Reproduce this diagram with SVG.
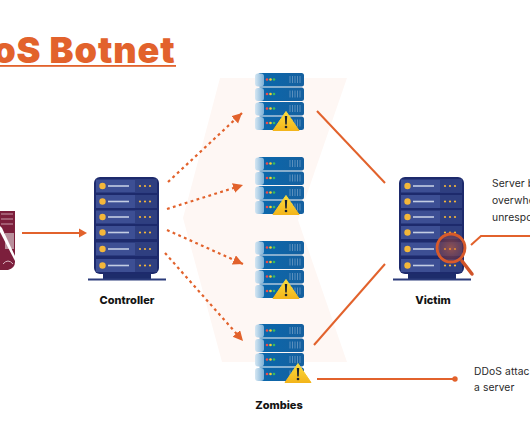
<svg xmlns="http://www.w3.org/2000/svg" xmlns:xlink="http://www.w3.org/1999/xlink" width="530" height="442" viewBox="0 0 530 442">
<style>
text{font-family:"Inter","Liberation Sans",sans-serif}
.lbl{font-size:11px;font-weight:800;fill:#141414;text-anchor:middle}
.note{font-size:10.300px;fill:#2a2a2a;letter-spacing:.1px}
.solid{fill:none;stroke:#e2622c;stroke-width:2}
.dash{fill:none;stroke:#e2622c;stroke-width:2.200;stroke-dasharray:2.800 3.400;marker-end:url(#tip)}
</style>
<defs>
<marker id="tip" markerUnits="userSpaceOnUse" markerWidth="12" markerHeight="12" refX="10" refY="5" orient="auto"><path d="M0 0L10 5L0 10Z" fill="#e2622c"/></marker>
<linearGradient id="blue" x1="0" x2="1" y1="0" y2="0"><stop offset="0" stop-color="#0a68ad"/><stop offset="1" stop-color="#15609f"/></linearGradient>
<linearGradient id="cap" x1="0" x2="1" y1="0" y2="0"><stop offset="0" stop-color="#d5e7f3"/><stop offset="1" stop-color="#7db0d6"/></linearGradient>
<linearGradient id="warn" x1="0" x2="0" y1="0" y2="1"><stop offset="0" stop-color="#fbdd3d"/><stop offset="1" stop-color="#f3b51b"/></linearGradient>
<radialGradient id="lens"><stop offset="0" stop-color="#e2622c" stop-opacity=".55"/><stop offset="1" stop-color="#a83a2a" stop-opacity=".3"/></radialGradient>
<g id="row">
<rect x="2" y="0" width="61" height="13" fill="#3d4f94"/>
<rect x="41" y="0" width="22" height="13" fill="#2f3f80"/>
<circle cx="8.500" cy="6.500" r="3.200" fill="#f4b73a"/>
<rect x="14" y="5.700" width="21" height="1.600" fill="#c3cde3"/>
<circle cx="46" cy="6.500" r="1.100" fill="#f4b73a"/><circle cx="51" cy="6.500" r="1.100" fill="#f4b73a"/><circle cx="56" cy="6.500" r="1.100" fill="#f4b73a"/>
</g>
<g id="rack">
<rect x="9" y="95" width="48" height="7" fill="#1d2c6b"/>
<rect x="-6" y="101.500" width="78" height="2" fill="#2b3b7a"/>
<rect x="0" y="0" width="65" height="97" rx="6" fill="#1d2a6c"/>
<use xlink:href="#row" href="#row" y="2.500"/>
<use xlink:href="#row" href="#row" y="18"/>
<use xlink:href="#row" href="#row" y="33.500"/>
<use xlink:href="#row" href="#row" y="49"/>
<use xlink:href="#row" href="#row" y="65.500"/>
<use xlink:href="#row" href="#row" y="82"/>
</g>
<g id="urow">
<rect x="3" y="0" width="46" height="13.500" rx="2.500" fill="url(#blue)"/>
<rect x="0" y="0.500" width="9" height="13" rx="3" fill="url(#cap)"/>
<circle cx="12" cy="6.500" r="1.300" fill="#ef4d4d"/><circle cx="15.500" cy="6.500" r="1.300" fill="#f6d232"/><circle cx="19" cy="6.500" r="1.300" fill="#3dbb5c"/>
<path d="M35 3v7M37.500 3v7M40 3v7M42.500 3v7M45 3v7" stroke="#5a8fbd" stroke-width="1"/>
</g>
<g id="stack">
<use xlink:href="#urow" href="#urow" y="0"/>
<use xlink:href="#urow" href="#urow" y="14.500"/>
<use xlink:href="#urow" href="#urow" y="29"/>
<use xlink:href="#urow" href="#urow" y="43.500"/>
</g>
<g id="warning">
<path d="M13 0.500L26 19.500H0Z" fill="url(#warn)" stroke="url(#warn)" stroke-width="1" stroke-linejoin="round"/>
<path d="M11.800 5h2.400l-.5 8.500h-1.400Z" fill="#1a2230"/><circle cx="13" cy="16" r="1.300" fill="#1a2230"/>
</g>
</defs>
<rect width="530" height="442" fill="#fff"/>
<path d="M220 78H347L298 220L347 362H222L183 218Z" fill="#fef7f4"/>
<g id="title">
<text x="175.500" y="63" text-anchor="end" font-size="36" font-weight="900" letter-spacing=".9" fill="#e2622c">DDoS Botnet</text>
<rect x="0" y="65" width="176" height="1.800" fill="#e2622c"/>
</g>
<g id="connectors">
<path class="solid" d="M22 233H80"/>
<path d="M79 228.500L87 233L79 237.500Z" fill="#e2622c"/>
<path class="dash" d="M168 182L242 113"/>
<path class="dash" d="M167 209L243 185"/>
<path class="dash" d="M167 230L243 264"/>
<path class="dash" d="M165 253L243 341"/>
<path class="solid" d="M317 111L385 183"/>
<path class="solid" d="M385 264L314 345"/>
<path class="solid" d="M471 245L481 236H530"/>
<path class="solid" d="M317 379H454"/>
<circle cx="455" cy="379" r="2.700" fill="#e2622c"/>
</g>
<g id="attacker">
<path d="M0 211H15V262Q15 268 8 270H0Z" fill="#7c1f3c"/>
<rect x="5" y="233" width="9" height="16" fill="#b9909c"/>
<path d="M1 214H13M1 219H13M1 224H13" stroke="#c99aa8" stroke-width="1"/>
<path d="M0 226L2 228L15 256V261L0 232Z" fill="#fff"/>
<path d="M3 264Q8 258 13 264" stroke="#d9b4c0" fill="none"/>
</g>
<g id="controller">
<use xlink:href="#rack" href="#rack" x="94" y="177"/>
<text class="lbl" x="127" y="304">Controller</text>
</g>
<g id="zombie-1"><use xlink:href="#stack" href="#stack" x="255" y="73"/><use xlink:href="#warning" href="#warning" x="273" y="111"/></g>
<g id="zombie-2"><use xlink:href="#stack" href="#stack" x="255" y="157"/><use xlink:href="#warning" href="#warning" x="273" y="195"/></g>
<g id="zombie-3"><use xlink:href="#stack" href="#stack" x="255" y="241"/><use xlink:href="#warning" href="#warning" x="273" y="279"/></g>
<g id="zombie-4"><use xlink:href="#stack" href="#stack" x="255" y="324"/><use xlink:href="#warning" href="#warning" x="285" y="363"/>
<text class="lbl" x="279" y="409">Zombies</text></g>
<g id="victim">
<use xlink:href="#rack" href="#rack" x="399" y="177"/>
<path d="M462 261L472 274" stroke="#d0542a" stroke-width="3.500" stroke-linecap="round"/>
<circle cx="451" cy="248" r="14" fill="url(#lens)" stroke="#d85a2a" stroke-width="2.800"/>
<text class="lbl" x="433" y="304">Victim</text>
</g>
<g id="notes">
<text class="note" x="492" y="187">Server b</text>
<text class="note" x="492" y="204">overwhe</text>
<text class="note" x="492" y="221">unrespo</text>
<text class="note" x="474" y="375">DDoS attac</text>
<text class="note" x="474" y="391">a server</text>
</g>
</svg>
